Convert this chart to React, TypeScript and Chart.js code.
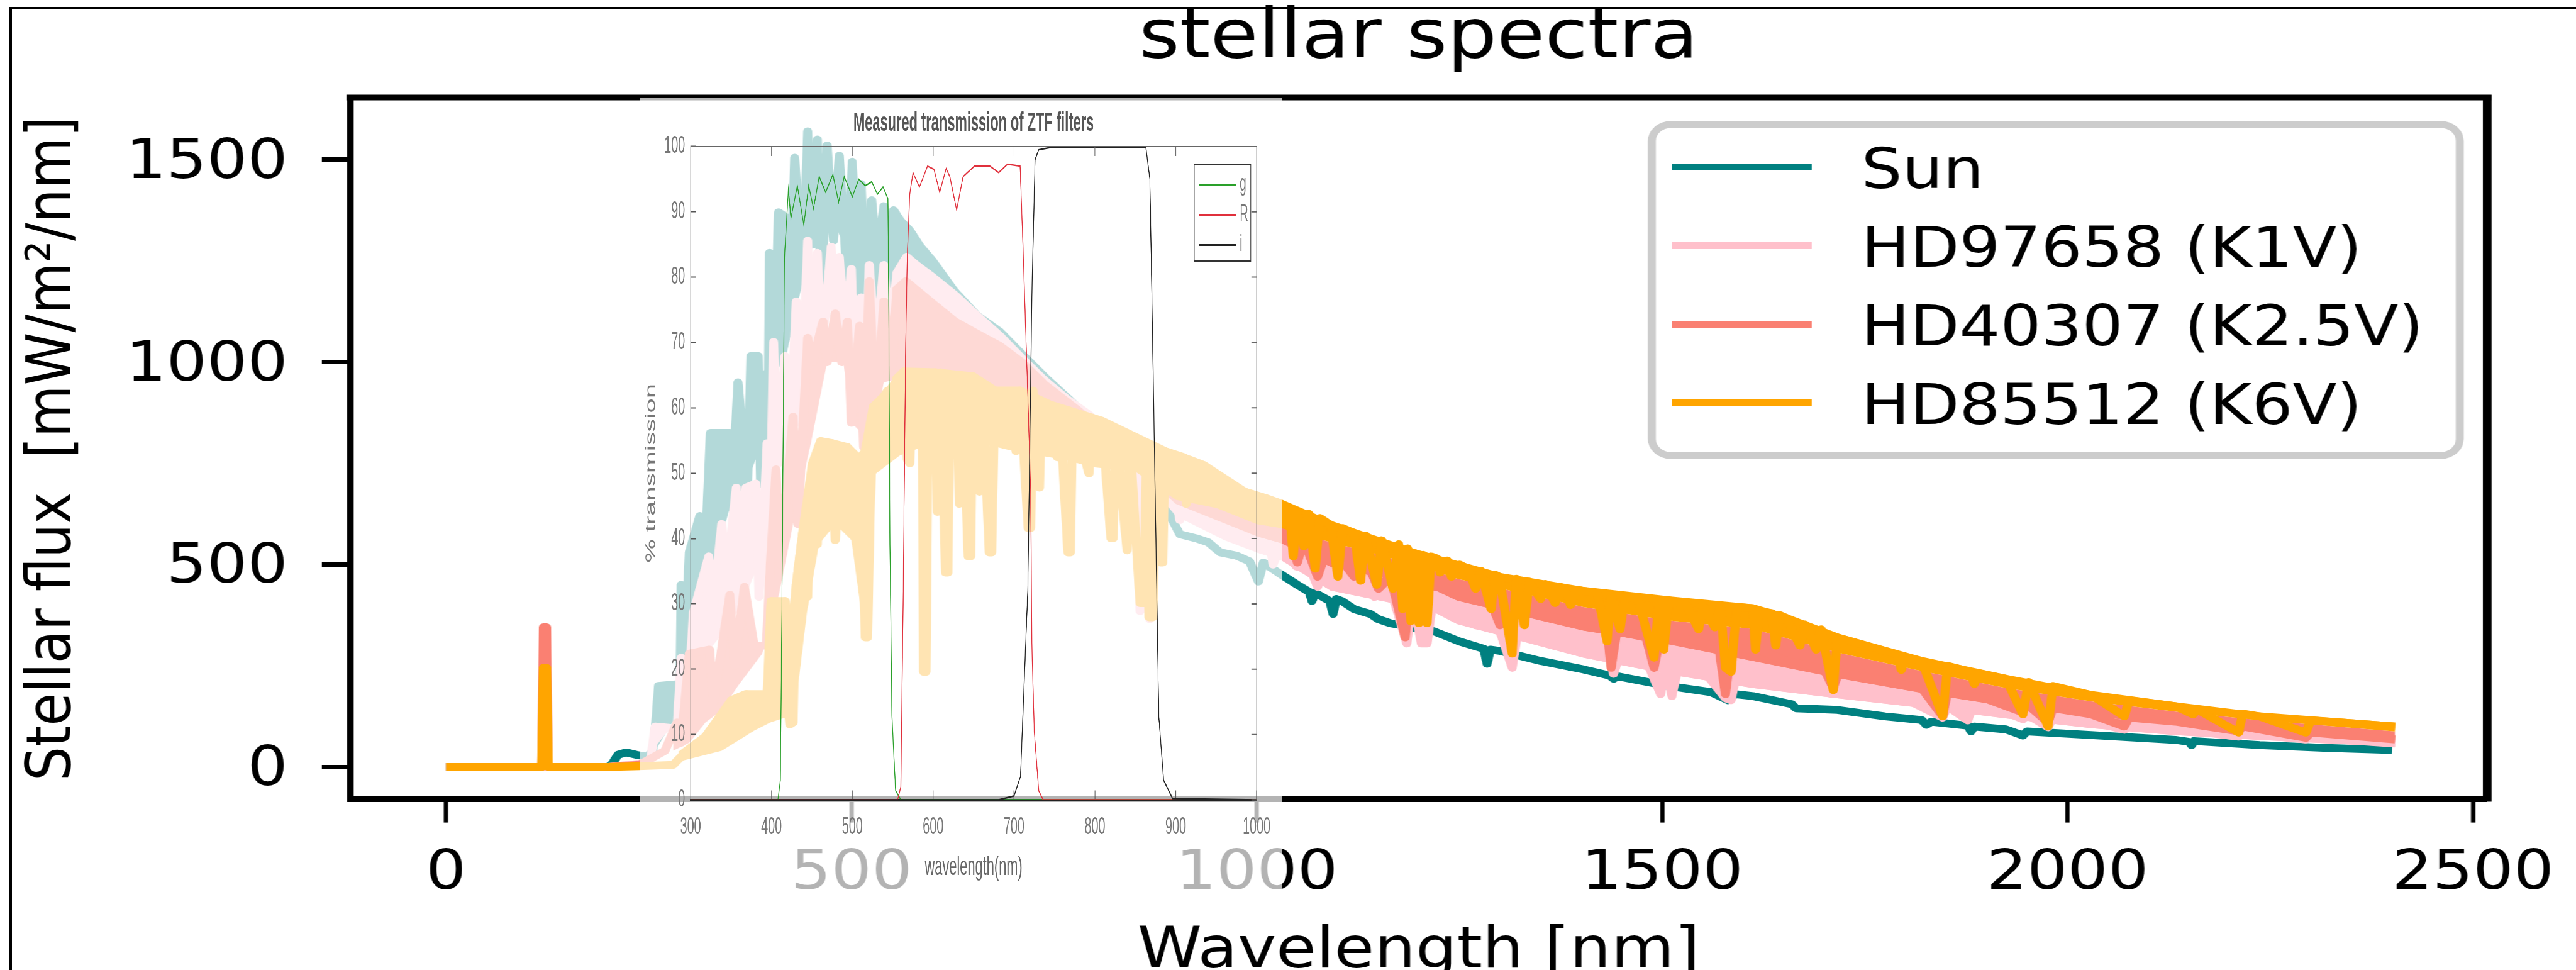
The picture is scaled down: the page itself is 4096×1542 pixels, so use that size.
import React, { useEffect, useRef } from "react";
import { Chart, registerables } from "chart.js";

Chart.register(...registerables);

// [wavelength nm, flux mW/m2/nm]
const sunSpectrum = [[0,0],[100,0],[200,0],[205,8],[212,30],[222,36],[235,30],[248,25],[255,40],[258,95],[262,200],[283,204],[288,120],[290,450],[296,330],[300,530],[313,620],[318,460],[326,825],[350,825],[352,640],[360,950],[372,700],[376,1015],[385,1015],[388,700],[392,970],[396,560],[399,1270],[405,1000],[410,1370],[418,1360],[424,1100],[430,1505],[440,1200],[446,1570],[452,1290],[458,1550],[463,1140],[470,1535],[478,1300],[485,1510],[495,1200],[501,1495],[506,1290],[512,1440],[518,1150],[525,1400],[532,1250],[540,1385],[545,1280],[552,1375],[560,1350],[572,1325],[585,1285],[600,1250],[627,1175],[655,1115],[683,1075],[710,1020],[740,960],[800,850],[850,730],[892,625],[905,575],[925,565],[940,555],[955,530],[975,522],[991,508],[1002,458],[1008,505],[1028,478],[1050,450],[1065,432],[1068,410],[1072,430],[1090,410],[1094,378],[1098,415],[1105,410],[1120,390],[1140,378],[1150,365],[1165,355],[1180,350],[1190,345],[1216,337],[1250,310],[1280,292],[1284,255],[1288,290],[1299,287],[1350,262],[1403,241],[1435,226],[1440,218],[1445,224],[1508,200],[1560,185],[1581,165],[1590,180],[1612,175],[1660,155],[1665,145],[1716,141],[1775,125],[1820,116],[1826,104],[1832,112],[1877,102],[1881,88],[1885,100],[1924,93],[1945,78],[1950,88],[2029,79],[2133,67],[2150,62],[2153,54],[2156,64],[2237,54],[2320,47],[2400,42]];
const sunLower = [[240,10],[258,40],[285,130],[300,260],[315,400],[330,500],[350,640],[370,700],[390,800],[400,950],[420,1020],[440,1200],[460,1340],[470,1330],[480,1340],[490,1290],[505,1180],[520,1040],[545,1180],[570,1200],[600,1180],[660,1060],[700,980],[740,930],[800,840],[850,725],[892,620]];

const k1vSpectrum = [[0,0],[100,0],[200,0],[238,8],[252,15],[258,100],[285,95],[290,270],[300,210],[305,380],[324,520],[328,360],[340,600],[345,450],[358,690],[362,500],[370,690],[382,700],[386,420],[390,520],[396,800],[399,560],[404,1050],[410,750],[418,1015],[424,800],[432,1150],[438,850],[446,1300],[452,950],[458,1270],[463,1050],[468,1120],[475,1285],[480,1120],[485,1260],[492,1070],[500,1230],[505,900],[512,1160],[516,850],[522,1240],[530,1020],[540,1240],[548,1050],[556,1220],[568,1260],[580,1240],[600,1210],[628,1165],[655,1115],[683,1065],[710,1010],[738,955],[765,910],[793,870],[830,800],[850,730],[856,385],[860,720],[868,365],[872,700],[900,690],[905,610],[910,680],[925,620],[932,670],[945,600],[950,650],[965,590],[970,640],[986,560],[992,630],[1005,590],[1012,610],[1020,500],[1028,540],[1035,530],[1049,495],[1060,520],[1075,445],[1085,500],[1100,470],[1115,445],[1130,490],[1145,420],[1165,440],[1185,305],[1192,420],[1203,305],[1210,305],[1217,410],[1247,385],[1270,350],[1290,345],[1299,340],[1315,245],[1322,335],[1350,320],[1380,310],[1403,300],[1432,290],[1440,230],[1448,280],[1480,265],[1498,180],[1505,255],[1512,175],[1520,250],[1550,240],[1578,170],[1585,165],[1592,235],[1620,222],[1650,212],[1690,190],[1711,180],[1716,190],[1760,180],[1800,168],[1846,122],[1852,150],[1877,115],[1882,145],[1924,135],[1945,118],[1950,130],[1976,98],[1982,122],[2029,112],[2070,92],[2075,100],[2133,94],[2211,75],[2216,84],[2294,68],[2300,72],[2404,58]];
const k1vLower = [[240,10],[262,60],[290,130],[303,180],[325,290],[345,340],[365,400],[385,500],[396,650],[410,780],[420,700],[440,900],[460,1040],[470,1180],[480,1220],[500,1120],[520,1050],[545,1040],[560,1000],[600,1000],[640,960],[680,950],[720,900],[760,850],[800,790],[850,740],[900,620],[960,560],[1000,530],[1030,511],[1091,436],[1216,385],[1247,353],[1403,270],[1508,229],[1612,195],[1716,170],[1820,146],[1924,120],[2029,96],[2133,79],[2237,67],[2404,50]];

const k25vSpectrum = [[0,0],[118,0],[120,345],[124,345],[126,0],[200,0],[238,5],[270,40],[285,110],[290,60],[300,280],[325,290],[330,160],[350,425],[356,250],[368,445],[380,300],[395,300],[400,500],[407,735],[412,500],[428,865],[434,600],[446,1060],[452,1000],[465,1100],[470,1000],[480,1120],[488,1000],[495,1100],[500,850],[510,1090],[515,790],[522,1200],[530,850],[540,1150],[550,990],[556,1180],[567,1200],[600,1145],[628,1100],[655,1070],[683,1040],[710,1000],[738,945],[780,880],[830,790],[900,700],[1000,620],[1028,590],[1044,560],[1050,505],[1058,560],[1075,470],[1085,530],[1105,510],[1120,470],[1135,510],[1150,440],[1165,470],[1183,320],[1190,450],[1200,450],[1220,445],[1247,437],[1270,415],[1290,400],[1300,350],[1306,395],[1330,385],[1360,372],[1403,355],[1432,340],[1437,245],[1444,335],[1480,320],[1490,245],[1497,315],[1508,325],[1540,312],[1570,295],[1578,180],[1585,290],[1612,295],[1650,265],[1700,240],[1711,195],[1718,235],[1760,220],[1820,195],[1846,125],[1852,185],[1900,168],[1945,135],[1950,155],[1976,110],[1982,145],[2029,130],[2070,100],[2076,122],[2133,112],[2211,88],[2216,100],[2294,72],[2300,85],[2404,68]];
const k25vLower = [[280,40],[300,60],[320,110],[340,140],[360,200],[390,280],[410,420],[430,620],[450,800],[460,900],[470,1000],[490,1000],[500,850],[515,820],[520,790],[540,950],[560,960],[600,830],[650,830],[700,800],[760,780],[800,760],[850,740],[900,650],[1000,570],[1030,553],[1091,495],[1216,440],[1247,411],[1403,337],[1508,303],[1612,262],[1716,220],[1820,183],[1924,150],[2029,125],[2133,104],[2237,87],[2404,66]];

const k6vSpectrum = [[0,0],[118,0],[120,245],[124,245],[126,0],[200,0],[238,2],[280,5],[297,40],[320,75],[340,130],[345,90],[352,165],[370,180],[380,120],[392,160],[396,130],[401,410],[407,300],[418,410],[422,150],[424,105],[428,110],[432,450],[440,580],[446,420],[452,750],[458,550],[462,805],[470,620],[476,800],[480,560],[486,720],[490,600],[495,790],[500,620],[506,600],[510,760],[514,540],[517,320],[520,320],[523,620],[527,890],[535,900],[545,930],[552,800],[556,960],[565,977],[569,760],[572,750],[575,975],[587,970],[589,235],[592,235],[595,970],[603,975],[606,630],[610,975],[616,480],[619,480],[622,960],[630,965],[633,650],[636,960],[644,520],[647,520],[650,965],[658,680],[661,950],[670,530],[673,530],[677,925],[683,800],[687,925],[700,925],[703,780],[708,930],[718,590],[721,590],[724,930],[732,690],[735,900],[745,895],[754,765],[757,880],[767,530],[770,530],[773,870],[793,725],[796,855],[809,855],[820,565],[823,565],[826,830],[840,535],[843,820],[856,405],[861,405],[864,800],[867,370],[872,370],[875,790],[881,505],[884,505],[887,780],[910,765],[913,650],[916,760],[935,745],[958,708],[985,680],[1010,665],[1028,652],[1040,640],[1045,520],[1050,632],[1058,545],[1064,625],[1072,490],[1078,615],[1091,598],[1100,470],[1106,590],[1120,578],[1128,460],[1134,572],[1148,450],[1154,560],[1168,440],[1175,550],[1180,390],[1186,540],[1190,360],[1195,528],[1200,355],[1205,524],[1210,355],[1215,520],[1222,515],[1226,480],[1235,510],[1240,470],[1250,500],[1260,490],[1270,440],[1276,485],[1289,390],[1294,475],[1299,470],[1315,280],[1320,465],[1330,350],[1336,458],[1350,415],[1356,452],[1368,405],[1374,445],[1380,440],[1387,400],[1394,438],[1403,435],[1420,430],[1432,310],[1437,425],[1448,340],[1454,420],[1470,415],[1490,270],[1496,412],[1502,290],[1508,412],[1530,400],[1545,340],[1550,400],[1565,345],[1572,398],[1578,245],[1585,235],[1592,395],[1612,392],[1615,290],[1620,385],[1635,380],[1640,300],[1645,375],[1653,368],[1670,300],[1676,352],[1690,290],[1696,340],[1711,190],[1716,320],[1760,295],[1790,278],[1795,240],[1800,272],[1820,262],[1846,125],[1852,250],[1880,235],[1885,205],[1890,232],[1924,218],[1945,130],[1952,210],[1976,100],[1982,200],[2029,178],[2070,125],[2076,165],[2133,150],[2155,130],[2160,142],[2211,85],[2216,132],[2237,125],[2294,85],[2300,115],[2350,108],[2404,100]];
const k6vLower = [[290,15],[340,40],[380,90],[400,110],[430,130],[445,380],[460,550],[480,600],[500,560],[515,340],[522,400],[527,720],[560,770],[600,800],[660,800],[700,780],[760,760],[800,740],[850,730],[900,660],[950,640],[1000,600],[1030,590],[1091,555],[1150,525],[1216,486],[1247,465],[1403,395],[1508,362],[1612,341],[1716,283],[1820,237],[1924,195],[2029,162],[2133,137],[2237,116],[2404,88]];
const k6vUpper = [[290,30],[320,75],[352,165],[370,180],[396,180],[401,410],[418,410],[422,250],[432,450],[440,580],[452,750],[462,805],[476,800],[495,790],[510,760],[517,780],[527,890],[545,925],[565,977],[603,975],[650,965],[677,930],[708,930],[745,895],[809,855],[887,780],[935,745],[985,680],[1028,652],[1091,598],[1195,528],[1299,470],[1403,435],[1508,412],[1612,392],[1653,368],[1716,320],[1820,262],[1924,218],[2029,178],[2133,150],[2237,125],[2404,100]];

// [wavelength nm, % transmission] for the inset
const gFilter = [[300,0],[400,0],[408,0],[411,3],[413,30],[416,83],[421,93.5],[424,89],[432,94],[440,88],[446,94],[452,90.5],[459,95.4],[467,93],[476,95.7],[483,91.5],[490,95.4],[500,92.3],[508,95],[516,94],[524,94.6],[531,92.7],[538,93.8],[544,92],[545,77],[546.5,39],[549,12.8],[553.5,1.4],[560,0],[1000,0]];
const rFilter = [[300,0],[556,0],[560,2],[563,32],[566,70],[568,83.5],[571,92.7],[575,96],[583,93.8],[593,97],[601,96.5],[608,93],[616,96.6],[620.6,95.4],[629,90.3],[637,95.4],[651,97],[670,97],[681,96],[692,97.3],[707.5,97],[711,85],[717,62],[720.6,47],[722,24],[725,10.5],[730.5,1.4],[736,0],[1000,0]];
const iFilter = [[300,0],[681,0],[700,0.6],[708,3.6],[717,32],[722,77],[726,98],[730.5,99.5],[747,99.9],[863,99.9],[868,95],[873.5,54.6],[879,12.8],[885,3],[896,0.2],[1000,0]];

const mainXTicks = [0, 500, 1000, 1500, 2000, 2500];
const mainYTicks = [0, 500, 1000, 1500];
const insetXTicks = [300, 400, 500, 600, 700, 800, 900, 1000];
const insetYTicks = [0, 10, 20, 30, 40, 50, 60, 70, 80, 90, 100];

const WIN_W = 4096;
const WIN_H = 1542;
const MAIN_K = 1.15; // the reference is stretched horizontally
const INSET_K = 0.52; // its inset is squeezed horizontally

const xy = (pairs: number[][]) => pairs.map(([x, y]) => ({ x, y }));
const redward = (pairs: number[][]) => xy(pairs.filter(([x]) => x >= 1000));
const plain = (v: any) => String(v);

function marker(color: string, width: number, height: number, lift: number) {
  const c = document.createElement("canvas");
  c.width = width;
  c.height = height + 2 * lift;
  const g = c.getContext("2d")!;
  g.fillStyle = color;
  g.fillRect(0, 0, width, height);
  return c;
}

const legendLabels = (width: number, height: number, lift: number, boxW: number, font: any, padding: number, color: string) => ({
  usePointStyle: true,
  pointStyleWidth: boxW,
  boxHeight: font.size,
  padding,
  font,
  color,
  sort: (a: any, b: any) => a.datasetIndex - b.datasetIndex,
  generateLabels: (chart: Chart) =>
    chart.data.datasets
      .map((d: any, i: number) => ({ d, i }))
      .filter(({ d }: any) => d.label)
      .map(({ d, i }: any) => ({
        text: d.label,
        datasetIndex: i,
        fontColor: color,
        hidden: false,
        lineWidth: 0,
        pointStyle: marker(d.borderColor, width, height, lift),
      })),
});

const placeLegend = (left: number, top: number) => ({
  id: "placeLegend",
  afterLayout(chart: any) {
    const l = chart.legend;
    l.left = left;
    l.top = top;
    l.right = chart.width;
    l.bottom = chart.height;
    l.width = chart.width - left;
    l.height = chart.height - top;
  },
});

const mainFrame = {
  id: "mainFrame",
  beforeDraw(chart: any) {
    const { ctx } = chart;
    ctx.save();
    ctx.lineWidth = 11;
    ctx.strokeStyle = "#cccccc";
    ctx.fillStyle = "#ffffff";
    ctx.beginPath();
    ctx.roundRect(2284, 198, 3401 - 2284, 724 - 198, 26);
    ctx.fill();
    ctx.stroke();
    ctx.restore();
  },
  afterDraw(chart: any) {
    const { ctx, chartArea: a } = chart;
    ctx.save();
    ctx.strokeStyle = "#000";
    ctx.lineWidth = 9;
    ctx.beginPath();
    ctx.moveTo(a.left - 5, a.top);
    ctx.lineTo(a.right + 6, a.top);
    ctx.stroke();
    ctx.lineWidth = 12;
    ctx.beginPath();
    ctx.moveTo(a.right, a.top - 4);
    ctx.lineTo(a.right, a.bottom + 4);
    ctx.stroke();
    ctx.restore();
  },
};

const insetFrame = {
  id: "insetFrame",
  beforeDraw(chart: any) {
    const { ctx, width, height } = chart;
    ctx.save();
    ctx.fillStyle = "rgba(255,255,255,0.7)";
    ctx.fillRect(0, 0, width, height);
    ctx.restore();
  },
  afterDraw(chart: any) {
    const { ctx, chartArea: a, scales } = chart;
    ctx.save();
    ctx.strokeStyle = "#666";
    ctx.lineWidth = 2;
    ctx.beginPath();
    ctx.moveTo(a.left, a.top);
    ctx.lineTo(a.right, a.top);
    ctx.lineTo(a.right, a.bottom);
    for (const t of insetXTicks) {
      const p = scales.x.getPixelForValue(t);
      ctx.moveTo(p, a.top);
      ctx.lineTo(p, a.top + 15);
    }
    for (const t of insetYTicks) {
      const p = scales.y.getPixelForValue(t);
      ctx.moveTo(a.right, p);
      ctx.lineTo(a.right - 16, p);
    }
    ctx.stroke();
    ctx.strokeStyle = "#333";
    ctx.strokeRect(1696, 106, 1869 - 1696, 259 - 106);
    ctx.restore();
  },
};

const fmt = (ticks: number[]) => (scale: any) => {
  scale.ticks = ticks.map((value) => ({ value }));
};

export default function App() {
  const mainRef = useRef<HTMLCanvasElement>(null);
  const insetRef = useRef<HTMLCanvasElement>(null);

  useEffect(() => {
    const mainFamily = "'DejaVu Sans'";
    const lineStyle = { borderWidth: 12.5, pointRadius: 0, tension: 0, borderJoinStyle: "round" as const, borderCapStyle: "butt" as const, fill: false };
    const bandStyle = { label: "", borderWidth: 0, pointRadius: 0, tension: 0 };
    const main = new Chart(mainRef.current!, {
      type: "line",
      data: {
        datasets: [
          { ...lineStyle, label: "Sun", data: xy(sunSpectrum), borderColor: "#008080", order: 3 },
          { ...lineStyle, label: "HD97658 (K1V)", data: xy(k1vSpectrum), borderColor: "#FFC0CB", order: 2 },
          { ...lineStyle, label: "HD40307 (K2.5V)", data: xy(k25vSpectrum), borderColor: "#FA8072", order: 1 },
          { ...lineStyle, label: "HD85512 (K6V)", data: xy(k6vSpectrum), borderColor: "#FFA500", order: 0 },
          { ...lineStyle, label: "", data: xy(k6vUpper), borderColor: "#FFA500", order: 0 },
          { ...bandStyle, data: xy(sunLower), borderColor: "#008080", backgroundColor: "#008080", fill: 0, order: 3 },
          { ...bandStyle, data: xy(k1vLower), borderColor: "#FFC0CB", backgroundColor: "#FFC0CB", fill: 1, order: 2 },
          { ...bandStyle, data: xy(k25vLower), borderColor: "#FA8072", backgroundColor: "#FA8072", fill: 2, order: 1 },
          { ...bandStyle, data: xy(k6vLower), borderColor: "#FFA500", backgroundColor: "#FFA500", fill: 4, order: 0 },
          { ...bandStyle, data: redward(k1vLower), borderColor: "#FFC0CB", backgroundColor: "#FFC0CB", fill: 7, order: 2 },
          { ...bandStyle, data: redward(k25vLower), borderColor: "#FA8072", backgroundColor: "#FA8072", fill: 8, order: 1 },
        ],
      },
      options: {
        responsive: false,
        animation: false,
        devicePixelRatio: 1,
        layout: { padding: { left: 0, right: 3562 - 3448, top: 0, bottom: 0 } },
        plugins: {
          tooltip: { enabled: false },
          title: {
            display: true,
            text: "stellar spectra",
            fullSize: false,
            color: "#000",
            font: { family: mainFamily, size: 108, weight: "normal", lineHeight: 1 },
            padding: { top: 9, bottom: 38 },
          },
          legend: {
            display: true,
            position: "chartArea",
            align: "start",
            labels: legendLabels(193, 11, 10, 241, { family: mainFamily, size: 89 }, 36, "#000"),
          },
        },
        scales: {
          x: {
            type: "linear",
            min: -118.4,
            max: 2517.6,
            afterBuildTicks: fmt(mainXTicks),
            afterFit: (s: any) => { s.height = 369.4; },
            grid: { drawOnChartArea: false, tickLength: 37, tickWidth: 6, tickColor: "#000" },
            border: { color: "#000", width: 9 },
            ticks: { callback: plain, color: "#000", padding: 30, maxRotation: 0, autoSkip: false, font: { family: mainFamily, size: 88 } },
            title: { display: true, text: "Wavelength [nm]", color: "#000", font: { family: mainFamily, size: 90 }, padding: { top: 0, bottom: 71.5 } },
          },
          y: {
            type: "linear",
            min: -79.7,
            max: 1653.6,
            afterBuildTicks: fmt(mainYTicks),
            afterFit: (s: any) => { s.width = 484; },
            grid: { drawOnChartArea: false, tickLength: 39, tickWidth: 7, tickColor: "#000" },
            border: { color: "#000", width: 9 },
            ticks: { callback: plain, color: "#000", padding: 47, labelOffset: 6, autoSkip: false, font: { family: mainFamily, size: 88 } },
            title: { display: true, text: "Stellar flux  [mW/m²/nm]", color: "#000", font: { family: mainFamily, size: 85 }, padding: { top: 24, bottom: 0 } },
          },
        },
      },
      plugins: [mainFrame, placeLegend(2252, 195)],
    } as any);

    const insetFamily = "'Liberation Sans'";
    const inset = new Chart(insetRef.current!, {
      type: "line",
      data: {
        datasets: [
          { label: "g", data: xy(gFilter), borderColor: "#2aa02a", order: 2 },
          { label: "R", data: xy(rFilter), borderColor: "#e0303c", order: 1 },
          { label: "i", data: xy(iFilter), borderColor: "#222222", order: 0 },
        ].map((d) => ({ ...d, borderWidth: 2.5, pointRadius: 0, tension: 0, fill: false })),
      },
      options: {
        responsive: false,
        animation: false,
        devicePixelRatio: 1,
        layout: { padding: { left: 0, right: 1965 - 1900, top: 0, bottom: 0 } },
        plugins: {
          tooltip: { enabled: false },
          title: {
            display: true,
            text: "Measured transmission of ZTF filters",
            fullSize: false,
            color: "#555",
            font: { family: insetFamily, size: 42, weight: "bold", lineHeight: 1.2 },
            padding: { top: 15.5, bottom: 11 },
          },
          legend: {
            display: true,
            position: "chartArea",
            align: "start",
            labels: legendLabels(115, 3, 0, 99, { family: insetFamily, size: 36 }, 12, "#777"),
          },
        },
        scales: {
          x: {
            type: "linear",
            min: 300,
            max: 1000,
            afterBuildTicks: fmt(insetXTicks),
            afterFit: (s: any) => { s.height = 156.5; },
            grid: { drawOnChartArea: false, tickLength: -15, tickWidth: 2, tickColor: "#555" },
            border: { color: "#222", width: 4 },
            ticks: { callback: plain, color: "#777", padding: 36, maxRotation: 0, autoSkip: false, font: { family: insetFamily, size: 38 } },
            title: { display: true, text: "wavelength(nm)", color: "#666", font: { family: insetFamily, size: 42 }, padding: { top: 0, bottom: 23.5 } },
          },
          y: {
            type: "linear",
            min: 0,
            max: 100,
            afterBuildTicks: fmt(insetYTicks),
            afterFit: (s: any) => { s.width = 156; },
            grid: { drawOnChartArea: false, tickLength: -16, tickWidth: 2, tickColor: "#555" },
            border: { color: "#666", width: 2 },
            ticks: { callback: plain, color: "#777", padding: 33, autoSkip: false, font: { family: insetFamily, size: 38 } },
            title: { display: true, text: "% transmission", color: "#777", font: { family: insetFamily, size: 42 }, padding: { top: 10, bottom: 0 } },
          },
        },
      },
      plugins: [insetFrame, placeLegend(1706, 107.5)],
    } as any);

    return () => {
      main.destroy();
      inset.destroy();
    };
  }, []);

  return (
    <div style={{ position: "fixed", left: 0, top: 0, width: WIN_W, height: WIN_H, overflow: "hidden", background: "#fff" }}>
      <div style={{ position: "absolute", left: 0, top: 0, transform: `scaleX(${MAIN_K})`, transformOrigin: "0 0" }}>
        <canvas ref={mainRef} width={3562} height={1640} style={{ display: "block" }} />
      </div>
      <div style={{ position: "absolute", left: 1017, top: 155.5, transform: `scaleX(${INSET_K})`, transformOrigin: "0 0" }}>
        <canvas ref={insetRef} width={1965} height={1272} style={{ display: "block" }} />
      </div>
      <div style={{ position: "absolute", left: 15, top: 11, width: 4081, height: 4.4, background: "#000" }} />
      <div style={{ position: "absolute", left: 15, top: 11, width: 4.4, height: 1531, background: "#000" }} />
    </div>
  );
}
